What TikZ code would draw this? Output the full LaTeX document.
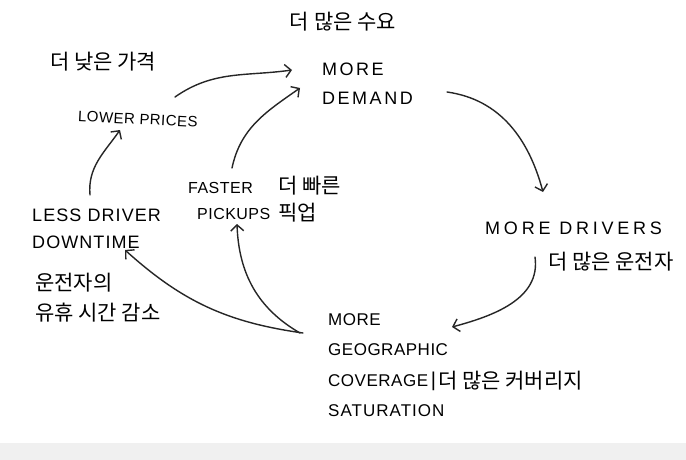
\documentclass[tikz,border=0pt]{standalone}
\usepackage{fontspec}
\setmainfont{Liberation Sans}
\newfontfamily\kofont{Noto Sans CJK KR}
\newfontfamily\handwide[LetterSpace=21]{Liberation Sans}
\newfontfamily\handfont[LetterSpace=14]{Liberation Sans}
\newfontfamily\handmid[LetterSpace=6]{Liberation Sans}
\newfontfamily\handtight[LetterSpace=3]{Liberation Sans}
\usetikzlibrary{arrows.meta}

\begin{document}
\begin{tikzpicture}[x=1pt,y=1pt,
  hand/.style={inner sep=0pt, anchor=west, align=left, text=black,
    font=\handfont\fontsize{18}{29}\selectfont},
  kor/.style={inner sep=0pt, anchor=west, align=left, text=black,
    font=\kofont\fontsize{21}{29}\selectfont},
  link/.style={line width=1.4pt, draw=black!85, line cap=round,
    -{Straight Barb[length=6pt,width=13pt]}}]

% paper
\fill[white] (0,0) rectangle (686,-460);
\fill[black!6] (0,-443) rectangle (686,-460);
\useasboundingbox (0,0) rectangle (686,-460);

% handwritten stages of the loop
\node[hand] (demand) at (322,-84) {MORE\\DEMAND};
\node[hand, font=\handwide\fontsize{18}{29}\selectfont] (drivers) at (485,-228) {MORE DRIVERS};
\node[hand, font=\handtight\fontsize{17}{30.3}\selectfont] (geo) at (328,-365)
  {MORE\\GEOGRAPHIC\\COVERAGE\,{\fontsize{20}{20}\selectfont\textbar}\\{\handmid SATURATION}};
\node[hand, font=\handmid\fontsize{18}{27}\selectfont] (downtime) at (32,-229) {LESS DRIVER\\DOWNTIME};
\node[hand, font=\handtight\fontsize{15}{29}\selectfont, rotate=-3] (prices) at (78,-116) {LOWER PRICES};
\node[hand, font=\handtight\fontsize{16}{26}\selectfont] (pickups) at (188,-201) {FASTER\\\hspace{9pt}PICKUPS};

% Korean captions
\node[kor, anchor=center] (kdemand) at (343,-22) {더 많은 수요};
\node[kor] (kprices) at (50,-62) {더 낮은 가격};
\node[kor, font=\kofont\fontsize{21}{27}\selectfont] (kpickups) at (278,-199) {더 빠른\\픽업};
\node[kor] (kdrivers) at (548,-262) {더 많은 운전자};
\node[kor, font=\kofont\fontsize{21}{30}\selectfont] (kdowntime) at (35,-298) {운전자의\\유휴 시간 감소};
\node[kor] (kgeo) at (438,-381) {더 많은 커버리지};

% connectors
\draw[link] ([xshift=97pt,yshift=19pt]prices.west) to[out=35,in=188]
  ([xshift=-30pt,yshift=14pt]demand.west);
\draw[link] ([xshift=44pt,yshift=33pt]pickups.west) to[out=78,in=215]
  ([xshift=-22pt,yshift=-4pt]demand.west);
\draw[link] ([xshift=58pt,yshift=34pt]downtime.west) to[out=95,in=235]
  ([xshift=42pt,yshift=-14pt]prices.west);
\draw[link] ([xshift=125pt,yshift=-8pt]demand.west) to[out=-8,in=105]
  ([xshift=58pt,yshift=36pt]drivers.west);
\draw[link] ([xshift=50pt,yshift=-29pt]drivers.west) to[out=-82,in=15]
  ([xshift=124pt,yshift=38pt]geo.west);
\draw[link] ([xshift=-25pt,yshift=32pt]geo.west) to[out=172,in=-42]
  ([xshift=93pt,yshift=-21pt]downtime.west);
\draw[link] ([xshift=-28pt,yshift=32pt]geo.west) to[out=150,in=-88]
  ([xshift=49pt,yshift=-23pt]pickups.west);

\end{tikzpicture}
\end{document}
